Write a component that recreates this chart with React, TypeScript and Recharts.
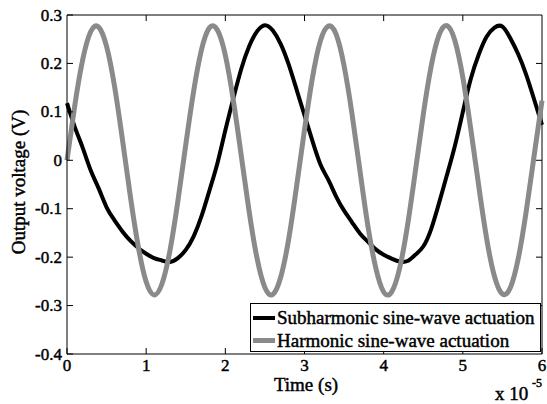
import React from "react";
import { LineChart, Line, XAxis, YAxis, Legend, ReferenceLine } from "recharts";

// Time axis in units of 1e-5 s
const time = [
  0, 0.1, 0.2, 0.3, 0.4, 0.5, 0.6, 0.7, 0.8, 0.9,
  1, 1.1, 1.2, 1.3, 1.4, 1.5, 1.6, 1.7, 1.8, 1.9,
  2, 2.1, 2.2, 2.3, 2.4, 2.5, 2.6, 2.7, 2.8, 2.9,
  3, 3.1, 3.2, 3.3, 3.4, 3.5, 3.6, 3.7, 3.8, 3.9,
  4, 4.1, 4.2, 4.3, 4.4, 4.5, 4.6, 4.7, 4.8, 4.9,
  5, 5.1, 5.2, 5.3, 5.4, 5.5, 5.6, 5.7, 5.8, 5.9,
  6,
];

// Subharmonic sine-wave actuation (V)
const subharmonic = [
  0.118, 0.068, 0.025, -0.021, -0.058, -0.097, -0.124, -0.147, -0.166, -0.181,
  -0.193, -0.202, -0.207, -0.21, -0.202, -0.185, -0.157, -0.115, -0.062, -0.006,
  0.062, 0.127, 0.188, 0.235, 0.266, 0.279, 0.268, 0.24, 0.198, 0.146,
  0.093, 0.04, -0.008, -0.04, -0.075, -0.104, -0.128, -0.151, -0.168, -0.184,
  -0.195, -0.203, -0.209, -0.208, -0.195, -0.178, -0.142, -0.088, -0.03, 0.03,
  0.1, 0.168, 0.218, 0.255, 0.274, 0.276, 0.252, 0.219, 0.177, 0.126,
  0.073,
];

// Harmonic sine-wave actuation (V)
const harmonic = [
  0, 0.115, 0.209, 0.266, 0.275, 0.235, 0.153, 0.043, -0.074, -0.178,
  -0.251, -0.278, -0.255, -0.187, -0.085, 0.032, 0.143, 0.229, 0.274, 0.269,
  0.217, 0.125, 0.011, -0.105, -0.202, -0.263, -0.277, -0.241, -0.163, -0.054,
  0.063, 0.17, 0.246, 0.277, 0.26, 0.195, 0.096, -0.021, -0.135, -0.222,
  -0.272, -0.272, -0.224, -0.136, -0.023, 0.094, 0.194, 0.259, 0.278, 0.247,
  0.171, 0.065, -0.052, -0.161, -0.24, -0.276, -0.263, -0.203, -0.106, 0.009,
  0.123,
];

const xTicks = [0, 1, 2, 3, 4, 5, 6];
const yTicks = [-0.4, -0.3, -0.2, -0.1, 0, 0.1, 0.2, 0.3];

const seriesNames = ["Subharmonic sine-wave actuation", "Harmonic sine-wave actuation"];
const seriesColors = ["#000000", "#8a8a8a"];

const data = time.map((t, i) => ({ t, sub: subharmonic[i], har: harmonic[i] }));

const X_MIN = xTicks[0];
const X_MAX = xTicks[xTicks.length - 1];
const Y_MIN = yTicks[0];
const Y_MAX = yTicks[yTicks.length - 1];

// tick lengths for top/right frame ticks, in data units (~6px)
const TOP_TICK = 0.0125;
const RIGHT_TICK = 0.076;

const FONT = "Liberation Serif";
// fake the bold weight with a thin stroke
const boldish = { fill: "#000", stroke: "#000", strokeWidth: 0.45, fontFamily: FONT };

const fmtY = (v: number) => (Math.abs(v) < 1e-9 ? "0" : v.toFixed(1));

function LeftTick({ x, y, payload }: any) {
  return (
    <text x={x} y={y} textAnchor="end" dominantBaseline="central" fontSize={17} {...boldish}>
      {fmtY(payload.value)}
    </text>
  );
}

function BottomTick({ x, y, payload }: any) {
  return (
    <text x={x} y={y} dy="0.72em" textAnchor="middle" fontSize={17} {...boldish}>
      {payload.value}
    </text>
  );
}

function LegendBox() {
  return (
    <div
      style={{
        boxSizing: "border-box",
        border: "1px solid #000",
        background: "#fff",
        width: 291,
        height: 49,
        paddingTop: 2,
        fontFamily: FONT,
        fontSize: 19,
        color: "#000",
        WebkitTextStroke: "0.45px #000",
      }}
    >
      {seriesNames.map((name, i) => (
        <div key={name} style={{ display: "flex", alignItems: "center", height: 23 }}>
          <span
            style={{
              display: "inline-block",
              width: 22,
              height: i === 0 ? 4 : 5,
              background: seriesColors[i],
              marginLeft: 2,
              marginRight: 2,
            }}
          />
          <span style={{ lineHeight: "23px", whiteSpace: "nowrap" }}>{name}</span>
        </div>
      ))}
    </div>
  );
}

export default function App() {
  return (
    <div style={{ position: "absolute", left: 0, top: 0, width: 547, height: 404, background: "#fff", fontFamily: FONT }}>
      <LineChart width={547} height={404} data={data} margin={{ top: 15, right: 5, bottom: 0, left: 0 }}>
        <XAxis
          dataKey="t"
          type="number"
          domain={[X_MIN, X_MAX]}
          ticks={xTicks}
          height={50}
          tickSize={-6}
          tickMargin={11}
          stroke="#000"
          tick={<BottomTick />}
          label={{
            content: () => (
              <g fontSize={19} {...boldish}>
                <text x={306} y={391} textAnchor="middle">
                  Time (s)
                </text>
                <text x={495} y={400}>x 10</text>
                <text x={532} y={387} fontSize={12}>
                  -5
                </text>
              </g>
            ),
          }}
        />
        <YAxis
          type="number"
          domain={[Y_MIN, Y_MAX]}
          ticks={yTicks}
          width={67}
          tickSize={-6}
          tickMargin={11}
          stroke="#000"
          tick={<LeftTick />}
          label={{
            content: () => (
              <text
                x={18}
                y={182}
                transform="rotate(-90, 18, 182)"
                textAnchor="middle"
                dominantBaseline="central"
                fontSize={19}
                {...boldish}
              >
                Output voltage (V)
              </text>
            ),
          }}
        />
        {/* box frame: top and right edges with inward ticks */}
        <ReferenceLine y={Y_MAX} stroke="#000" strokeWidth={1} />
        <ReferenceLine x={X_MAX} stroke="#000" strokeWidth={1} />
        {xTicks.slice(1, -1).map((t) => (
          <ReferenceLine
            key={"tx" + t}
            segment={[
              { x: t, y: Y_MAX },
              { x: t, y: Y_MAX - TOP_TICK },
            ]}
            stroke="#000"
          />
        ))}
        {yTicks.slice(1, -1).map((v) => (
          <ReferenceLine
            key={"ty" + v}
            segment={[
              { x: X_MAX, y: v },
              { x: X_MAX - RIGHT_TICK, y: v },
            ]}
            stroke="#000"
          />
        ))}
        <Legend
          layout="horizontal"
          verticalAlign="middle"
          align="center"
          content={() => <LegendBox />}
          wrapperStyle={{ left: 250, top: 303, width: 291, height: 49 }}
        />
        <Line
          type="natural"
          dataKey="sub"
          stroke={seriesColors[0]}
          strokeWidth={4}
          dot={false}
          isAnimationActive={false}
          name={seriesNames[0]}
        />
        <Line
          type="natural"
          dataKey="har"
          stroke={seriesColors[1]}
          strokeWidth={5}
          dot={false}
          isAnimationActive={false}
          name={seriesNames[1]}
        />
      </LineChart>
    </div>
  );
}
